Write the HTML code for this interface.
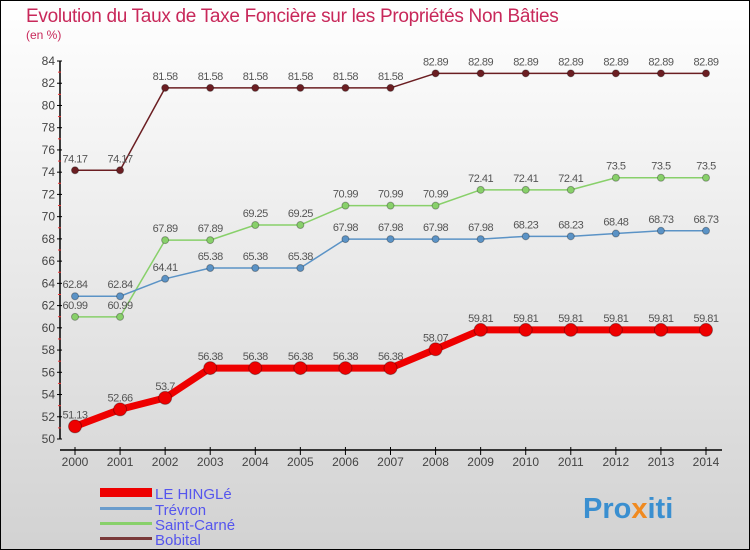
<!DOCTYPE html>
<html><head><meta charset="utf-8"><style>
body{margin:0}
svg{display:block;font-family:"Liberation Sans",sans-serif}
</style></head><body>
<svg width="750" height="550" viewBox="0 0 750 550">
<defs><linearGradient id="bg" x1="0" y1="0" x2="0" y2="1"><stop offset="0" stop-color="#ffffff"/><stop offset="1" stop-color="#d2d2d2"/></linearGradient></defs>
<rect x="0.5" y="0.5" width="749" height="549" fill="url(#bg)" stroke="#000"/>
<text x="26" y="22" font-size="19" letter-spacing="-0.3" fill="#c8285a">Evolution du Taux de Taxe Foncière sur les Propriétés Non Bâties</text>
<text x="26" y="39" font-size="12" fill="#c8285a">(en %)</text>
<g id="axes"></g>
<g id="series"></g>
<g id="legend">
<rect x="100" y="488" width="52" height="9" fill="#e00"/>
<text x="155" y="499" font-size="15" fill="#5555ee">LE HINGLé</text>
<rect x="100" y="507" width="52" height="3" fill="#6a9ccc"/>
<text x="155" y="515" font-size="15" fill="#5555ee">Trévron</text>
<rect x="100" y="522" width="52" height="3" fill="#88d06a"/>
<text x="155" y="530" font-size="15" fill="#5555ee">Saint-Carné</text>
<rect x="100" y="537" width="52" height="3" fill="#7a3a3a"/>
<text x="155" y="545" font-size="15" fill="#5555ee">Bobital</text>
</g>
<text x="583" y="518" font-size="29" font-weight="bold" fill="#3a8fd0">Pro<tspan fill="#f08a20">x</tspan>iti</text>
</svg>
<script>
const years=["2000","2001","2002","2003","2004","2005","2006","2007","2008","2009","2010","2011","2012","2013","2014"];
const leHingle=[51.13,52.66,53.7,56.38,56.38,56.38,56.38,56.38,58.07,59.81,59.81,59.81,59.81,59.81,59.81];
const trevron=[62.84,62.84,64.41,65.38,65.38,65.38,67.98,67.98,67.98,67.98,68.23,68.23,68.48,68.73,68.73];
const saintCarne=[60.99,60.99,67.89,67.89,69.25,69.25,70.99,70.99,70.99,72.41,72.41,72.41,73.5,73.5,73.5];
const bobital=[74.17,74.17,81.58,81.58,81.58,81.58,81.58,81.58,82.89,82.89,82.89,82.89,82.89,82.89,82.89];
const yTicks=[50,52,54,56,58,60,62,64,66,68,70,72,74,76,78,80,82,84];
const NS="http://www.w3.org/2000/svg";
function xs(i){return 75+i*(706-75)/14;}
function ys(v){return 439-(v-50)*(439-61)/34;}
function mk(tag,attrs,parent){const e=document.createElementNS(NS,tag);for(const k in attrs)e.setAttribute(k,attrs[k]);parent.appendChild(e);return e;}
const ax=document.getElementById('axes');
let yl=mk('line',{x1:60,y1:61,x2:60,y2:439,stroke:'#000','stroke-width':1.5},ax);


let xl=mk('line',{x1:60,y1:450,x2:722,y2:450,stroke:'#000','stroke-width':1.5},ax);


yTicks.forEach((v,k)=>{
 const y=ys(v);
 mk('line',{x1:57,y1:y,x2:62,y2:y,stroke:'#000'},ax);
 if(k<yTicks.length-1) mk('line',{x1:58,y1:ys(v+1),x2:61,y2:ys(v+1),stroke:'#e33'},ax);
 const t=mk('text',{x:55,y:y+4,'font-size':12,fill:'#444','text-anchor':'end'},ax);
 t.textContent=v;
 
 
});
years.forEach((yr,i)=>{
 const x=xs(i);
 mk('line',{x1:x,y1:447,x2:x,y2:455,stroke:'#000'},ax);
 const t=mk('text',{x:x,y:466,'font-size':12,fill:'#444','text-anchor':'middle'},ax);
 t.textContent=yr;
 
 
});
const sg=document.getElementById('series');
function draw(vals,color,w,r,name){
 const g=mk('g',{},sg);
 
 
 const p=mk('polyline',{points:vals.map((v,i)=>xs(i)+','+ys(v)).join(' '),fill:'none',stroke:color,'stroke-width':w,'stroke-linejoin':'round'},g);
 
 
 vals.forEach((v,i)=>{
  const c=mk('circle',{cx:xs(i),cy:ys(v),r:r,fill:color,stroke:'rgba(0,0,0,0.3)'},g);
  
  
  const t=mk('text',{x:xs(i),y:ys(v)-8,'font-size':11,fill:'#555','text-anchor':'middle','letter-spacing':'-0.5'},g);
  t.textContent=String(v);
  
  
 });
}
draw(bobital,'#6b1e22',1.5,3.5,'bobital');
draw(saintCarne,'#88d06a',1.5,3.5,'saint-carne');
draw(trevron,'#5b93c6',1.5,3.5,'trevron');
draw(leHingle,'#ee0000',7,6.5,'le-hingle');
</script>
</body></html>
